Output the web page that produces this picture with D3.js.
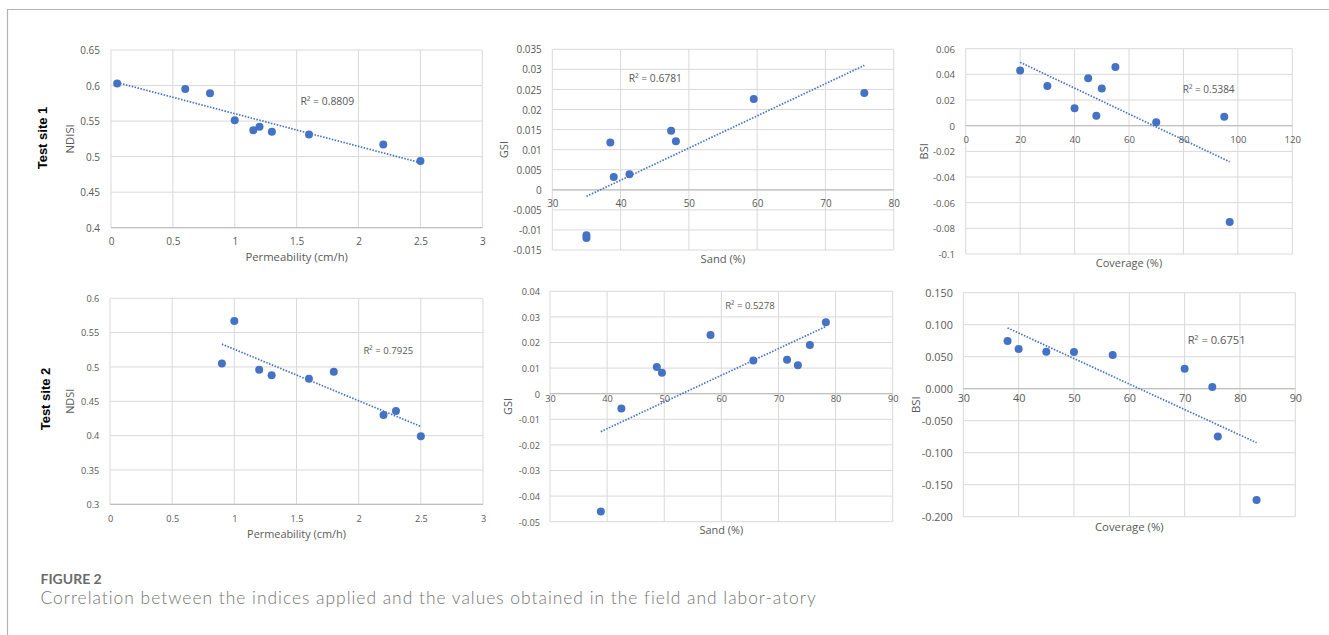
<!DOCTYPE html>
<html>
<head>
<meta charset="utf-8">
<script src="https://cdn.jsdelivr.net/npm/d3@7"></script>
<style>
  html, body { margin: 0; padding: 0; background: #ffffff; }
  svg { display: block; }
  text { font-family: "Open Sans", "Noto Sans", sans-serif; }
</style>
</head>
<body>
<svg id="fig" width="1329" height="635"></svg>
<script>
// ---- Test site 1 ----
const site1Permeability = [0.05, 0.6, 0.8, 1.0, 1.15, 1.2, 1.3, 1.6, 2.2, 2.5];
const site1NDISI        = [0.603, 0.595, 0.589, 0.551, 0.537, 0.542, 0.535, 0.531, 0.517, 0.494];
const site1Sand         = [35, 35, 38.5, 39, 41.3, 47.4, 48.1, 59.5, 75.7];
const site1GSI          = [-0.0113, -0.0120, 0.0118, 0.0032, 0.0039, 0.0147, 0.0121, 0.0226, 0.0241];
const site1Coverage     = [20, 30, 40, 45, 48, 50, 55, 70, 95, 97];
const site1BSI          = [0.043, 0.031, 0.0135, 0.037, 0.0077, 0.029, 0.0457, 0.0026, 0.007, -0.075];

// ---- Test site 2 ----
const site2Permeability = [0.9, 1.0, 1.2, 1.3, 1.6, 1.8, 2.2, 2.3, 2.5];
const site2NDSI         = [0.505, 0.567, 0.496, 0.488, 0.483, 0.493, 0.430, 0.436, 0.399];
const site2Sand         = [38.9, 42.5, 48.7, 49.6, 58.1, 65.6, 71.5, 73.4, 75.5, 78.3];
const site2GSI          = [-0.046, -0.0058, 0.0104, 0.0082, 0.0229, 0.0130, 0.0133, 0.0111, 0.0190, 0.0279];
const site2Coverage     = [38, 40, 45, 50, 57, 70, 75, 76, 83];
const site2BSI          = [0.0745, 0.062, 0.0578, 0.0573, 0.0526, 0.0313, 0.0026, -0.0745, -0.174];

// ---- Tick labels ----
const permTicks    = ["0", "0.5", "1", "1.5", "2", "2.5", "3"];
const ndisiTicks   = ["0.4", "0.45", "0.5", "0.55", "0.6", "0.65"];
const sandTicks1   = ["30", "40", "50", "60", "70", "80"];
const gsiTicks1    = ["-0.015", "-0.01", "-0.005", "0", "0.005", "0.01", "0.015", "0.02", "0.025", "0.03", "0.035"];
const coverTicks1  = ["0", "20", "40", "60", "80", "100", "120"];
const bsiTicks1    = ["-0.1", "-0.08", "-0.06", "-0.04", "-0.02", "0", "0.02", "0.04", "0.06"];
const ndsiTicks    = ["0.3", "0.35", "0.4", "0.45", "0.5", "0.55", "0.6"];
const sandTicks2   = ["30", "40", "50", "60", "70", "80", "90"];
const gsiTicks2    = ["-0.05", "-0.04", "-0.03", "-0.02", "-0.01", "0", "0.01", "0.02", "0.03", "0.04"];
const coverTicks2  = ["30", "40", "50", "60", "70", "80", "90"];
const bsiTicks2    = ["-0.200", "-0.150", "-0.100", "-0.050", "0.000", "0.050", "0.100", "0.150"];

// ---- Text ----
const r2Labels   = ["R² = 0.8809", "R² = 0.6781", "R² = 0.5384", "R² = 0.7925", "R² = 0.5278", "R² = 0.6751"];
const siteLabels = ["Test site 1", "Test site 2"];
const figureLabel = "FIGURE 2";
const captionText = "Correlation between the indices applied and the values obtained in the field and labor-atory";

const BLUE = "#4472C4";
const GRID = "#d9d9d9";
const AXIS = "#bfbfbf";
const TXT  = "#595959";

// Each panel: data, axes, and its place on the page
const panels = [
  { xs: site1Permeability, ys: site1NDISI, xt: permTicks, yt: ndisiTicks, xTitle: "Permeability (cm/h)", yTitle: "NDISI", r2: r2Labels[0],
    box: { l: 111, r: 482.3, t: 50, b: 227.7 }, fs: 10, tfs: 11.3, xLabDy: 14, yLabGap: 11,
    xTitleY: 257, yTitleX: 70, r2At: [327.3, 101] },
  { xs: site1Sand, ys: site1GSI, xt: sandTicks1, yt: gsiTicks1, xTitle: "Sand (%)", yTitle: "GSI", r2: r2Labels[1],
    box: { l: 552.3, r: 893.7, t: 49.3, b: 250 }, fs: 9.9, tfs: 11.2, xLabDy: 13.2, yLabGap: 10.6,
    xTitleY: 259.3, yTitleX: 504, r2At: [655.3, 78.7] },
  { xs: site1Coverage, ys: site1BSI, xt: coverTicks1, yt: bsiTicks1, xTitle: "Coverage (%)", yTitle: "BSI", r2: r2Labels[2],
    box: { l: 965.7, r: 1292.3, t: 48.7, b: 254 }, fs: 9.6, tfs: 11, xLabDy: 13.4, yLabGap: 10.7,
    xTitleY: 263, yTitleX: 924, r2At: [1208.7, 89.3] },
  { xs: site2Permeability, ys: site2NDSI, xt: permTicks, yt: ndsiTicks, xTitle: "Permeability (cm/h)", yTitle: "NDSI", r2: r2Labels[3],
    box: { l: 110, r: 483, t: 298.3, b: 504.3 }, fs: 9.2, tfs: 10.9, xLabDy: 14.7, yLabGap: 10.7,
    xTitleY: 534.3, yTitleX: 70, r2At: [388.3, 350.7] },
  { xs: site2Sand, ys: site2GSI, xt: sandTicks2, yt: gsiTicks2, xTitle: "Sand (%)", yTitle: "GSI", r2: r2Labels[4],
    box: { l: 550, r: 892.7, t: 291.3, b: 521.7 }, fs: 9.2, tfs: 10.9, xLabDy: 4.6, yLabGap: 10,
    xTitleY: 530, yTitleX: 507.7, r2At: [750, 305.7] },
  { xs: site2Coverage, ys: site2BSI, xt: coverTicks2, yt: bsiTicks2, xTitle: "Coverage (%)", yTitle: "BSI", r2: r2Labels[5],
    box: { l: 963.3, r: 1295.3, t: 292.7, b: 516.7 }, fs: 10.8, tfs: 11.4, xLabDy: 9.7, yLabGap: 10.5,
    xTitleY: 527.3, yTitleX: 916, r2At: [1216.7, 340.3] }
];

const svg = d3.select("#fig");

// Page frame: thin rule along the top and the left side
svg.append("path")
  .attr("d", "M7.5,640 V9.5 H1335")
  .attr("fill", "none").attr("stroke", "#b3b3b3").attr("stroke-width", 1.2);

// Least-squares line through the points
function linearFit(xs, ys) {
  const mx = d3.mean(xs), my = d3.mean(ys);
  let sxy = 0, sxx = 0;
  xs.forEach((x, i) => { sxy += (x - mx) * (ys[i] - my); sxx += (x - mx) * (x - mx); });
  const slope = sxy / sxx;
  return x => my + slope * (x - mx);
}

panels.forEach(p => {
  const xVals = p.xt.map(Number), yVals = p.yt.map(Number);
  const x = d3.scaleLinear().domain(d3.extent(xVals)).range([p.box.l, p.box.r]);
  const y = d3.scaleLinear().domain(d3.extent(yVals)).range([p.box.b, p.box.t]);
  const g = svg.append("g");

  // gridlines
  g.selectAll(null).data(yVals).join("line")
    .attr("x1", p.box.l).attr("x2", p.box.r)
    .attr("y1", d => y(d)).attr("y2", d => y(d))
    .attr("stroke", GRID).attr("stroke-width", 1);
  g.selectAll(null).data(xVals).join("line")
    .attr("y1", p.box.t).attr("y2", p.box.b)
    .attr("x1", d => x(d)).attr("x2", d => x(d))
    .attr("stroke", GRID).attr("stroke-width", 1);

  // horizontal axis sits at y = 0 when zero is inside the range
  const yDom = y.domain();
  const cross = (yDom[0] <= 0 && yDom[1] >= 0) ? 0 : yDom[0];
  const axisY = y(cross);
  g.append("line")
    .attr("x1", p.box.l).attr("x2", p.box.r)
    .attr("y1", axisY).attr("y2", axisY)
    .attr("stroke", AXIS).attr("stroke-width", 1.2);

  // x tick labels
  const xAxis = d3.axisBottom(x).tickValues(xVals).tickSize(0).tickPadding(0)
    .tickFormat((d, i) => p.xt[i]);
  const xa = g.append("g").attr("transform", `translate(0,${axisY + p.xLabDy})`).call(xAxis);
  xa.select(".domain").remove();
  xa.selectAll("text").attr("y", 0).attr("dy", "0.36em")
    .attr("fill", TXT).style("font-size", p.fs + "px").style("font-family", "'Open Sans', sans-serif");

  // y tick labels
  const yAxis = d3.axisLeft(y).tickValues(yVals).tickSize(0).tickPadding(0)
    .tickFormat((d, i) => p.yt[i]);
  const ya = g.append("g").attr("transform", `translate(${p.box.l - p.yLabGap},0)`).call(yAxis);
  ya.select(".domain").remove();
  ya.selectAll("text").attr("x", 0).attr("dy", "0.36em")
    .attr("fill", TXT).style("font-size", p.fs + "px").style("font-family", "'Open Sans', sans-serif");

  // axis titles
  g.append("text")
    .attr("x", (p.box.l + p.box.r) / 2).attr("y", p.xTitleY).attr("dy", "0.36em")
    .attr("text-anchor", "middle").attr("fill", TXT).style("font-size", p.tfs + "px")
    .text(p.xTitle);
  g.append("text")
    .attr("transform", `translate(${p.yTitleX},${(p.box.t + p.box.b) / 2}) rotate(-90)`)
    .attr("dy", "0.36em")
    .attr("text-anchor", "middle").attr("fill", TXT).style("font-size", p.tfs + "px")
    .text(p.yTitle);

  // trend line
  const fit = linearFit(p.xs, p.ys);
  const [x0, x1] = d3.extent(p.xs);
  g.append("path")
    .attr("d", d3.line()([[x(x0), y(fit(x0))], [x(x1), y(fit(x1))]]))
    .attr("fill", "none").attr("stroke", BLUE).attr("stroke-width", 1.7)
    .attr("stroke-dasharray", "1.5 1.5");

  // points
  g.selectAll(null).data(p.xs.map((v, i) => [v, p.ys[i]])).join("circle")
    .attr("cx", d => x(d[0])).attr("cy", d => y(d[1])).attr("r", 4)
    .attr("fill", BLUE);

  // R² label
  g.append("text")
    .attr("x", p.r2At[0]).attr("y", p.r2At[1]).attr("dy", "0.36em")
    .attr("text-anchor", "middle").attr("fill", TXT).style("font-size", (p.fs + 0.4) + "px")
    .text(p.r2);
});

// row labels
[[42.7, 138], [45, 399]].forEach((pos, i) => {
  svg.append("text")
    .attr("transform", `translate(${pos[0]},${pos[1]}) rotate(-90)`)
    .attr("dy", "0.36em").attr("text-anchor", "middle")
    .style("font-family", "'Liberation Sans', Arial, sans-serif")
    .style("font-weight", "bold").style("font-size", "13px").attr("fill", "#000")
    .text(siteLabels[i]);
});

// caption
svg.append("text")
  .attr("x", 40.5).attr("y", 583.6)
  .style("font-family", "Lato, 'Open Sans', sans-serif")
  .style("font-size", "14px").style("font-weight", 700).attr("fill", "#6b6b6b")
  .text(figureLabel);
const cap = svg.append("text")
  .attr("x", 40.5).attr("y", 604.4)
  .style("font-family", "Lato, 'Open Sans', sans-serif")
  .style("font-size", "16.5px").style("font-weight", 300).attr("fill", "#757575")
  .text(captionText);
// widen the caption to its set measure: grow the type first, then space out the rest
const capW0 = cap.node().getComputedTextLength();
const capFs = Math.min(17.4, 16.5 * 776 / capW0);
cap.style("font-size", capFs + "px");
const capW1 = cap.node().getComputedTextLength();
cap.style("letter-spacing", ((776 - capW1) / captionText.length) + "px");
</script>
</body>
</html>
